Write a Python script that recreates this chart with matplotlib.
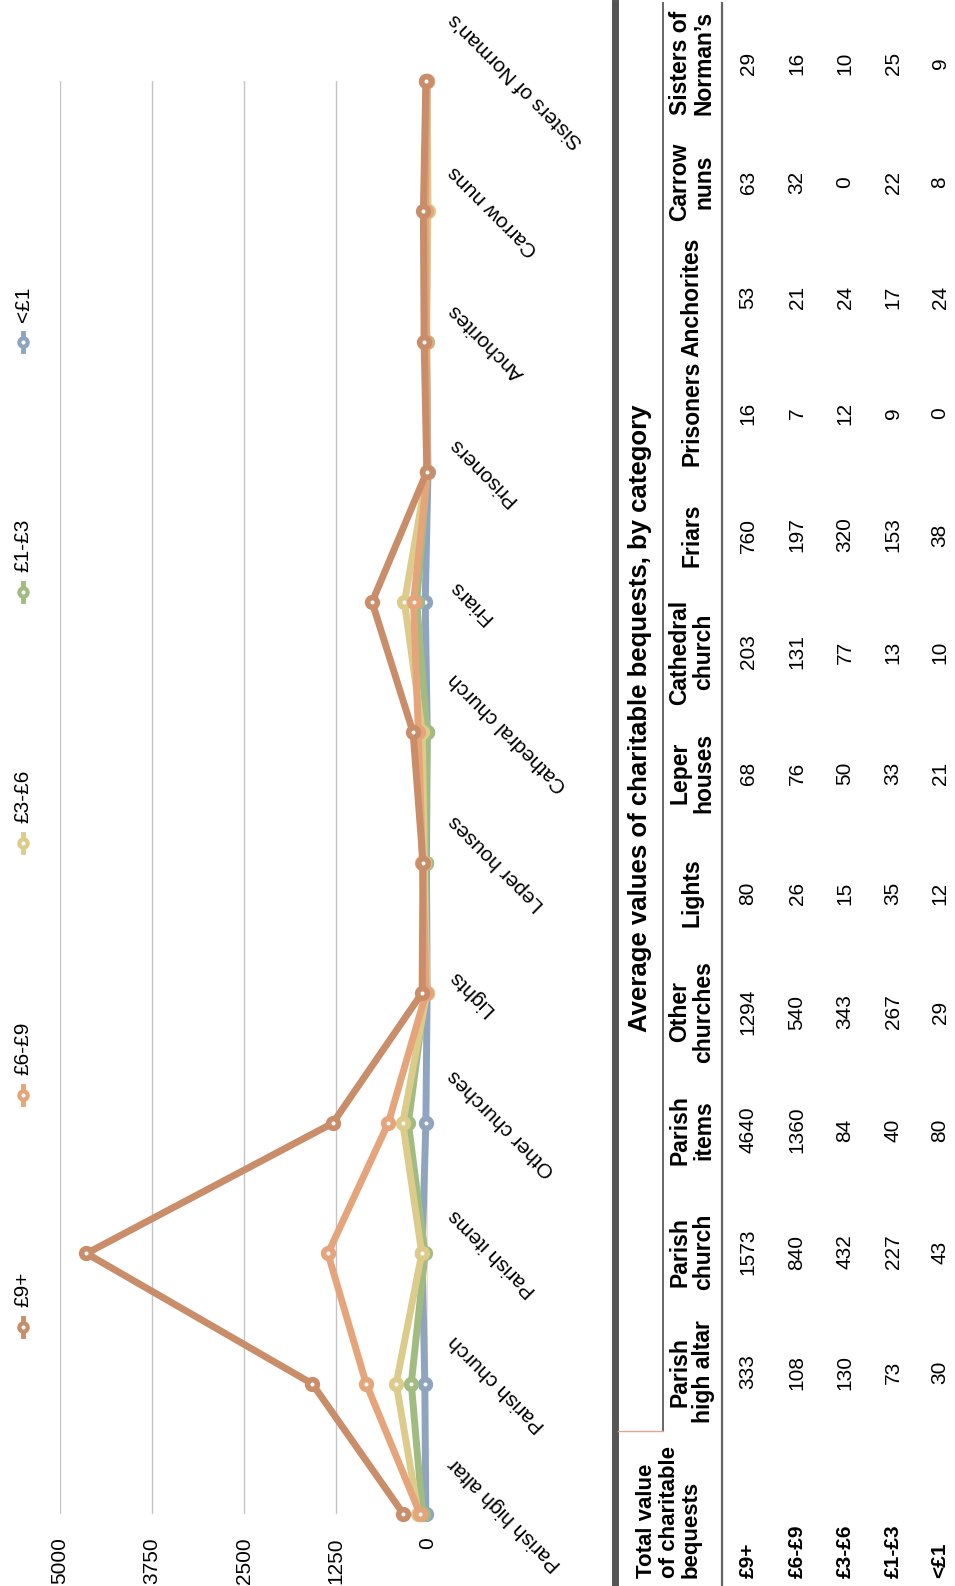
import matplotlib
matplotlib.use("Agg")
import matplotlib.pyplot as plt
from matplotlib.lines import Line2D

plt.rcParams['font.family'] = ['Liberation Sans', 'DejaVu Sans']

# categories along the chart, bottom to top
categories = ["Parish high altar", "Parish church", "Parish items", "Other churches",
              "Lights", "Leper houses", "Cathedral church", "Friars", "Prisoners",
              "Anchorites", "Carrow nuns", "Sisters of Norman's"]
table_headers = ["Parish\nhigh altar", "Parish\nchurch", "Parish\nitems", "Other\nchurches",
                 "Lights", "Leper\nhouses", "Cathedral\nchurch", "Friars", "Prisoners",
                 "Anchorites", "Carrow\nnuns", "Sisters of\nNorman\u2019s"]
bands = ["£9+", "£6-£9", "£3-£6", "£1-£3", "<£1"]

# average values per band
v_9plus = [333, 1573, 4640, 1294, 80, 68, 203, 760, 16, 53, 63, 29]
v_6to9 = [108, 840, 1360, 540, 26, 76, 131, 197, 7, 21, 32, 16]
v_3to6 = [130, 432, 84, 343, 15, 50, 77, 320, 12, 24, 0, 10]
v_1to3 = [73, 227, 40, 267, 35, 33, 13, 153, 9, 17, 22, 25]
v_under1 = [30, 43, 80, 29, 12, 21, 10, 38, 0, 24, 8, 9]
series = [v_9plus, v_6to9, v_3to6, v_1to3, v_under1]
colors = ["#C98D6A", "#E6A47B", "#DDCB8B", "#A1BC81", "#8EA4BF"]
value_ticks = [0, 1250, 2500, 3750, 5000]

W, H = 955, 1586
fig = plt.figure(figsize=(W / 100, H / 100), dpi=100)


def fx(px):
    return px / W


def fy(py):
    return 1 - py / H


# --- line chart (rotated: values run right-to-left, categories bottom-to-top)
ax = fig.add_axes([fx(60), fy(1514), fx(428) - fx(60), fy(81) - fy(1514)])
ypos = list(range(len(categories)))
ax.axvline(0, color="#FF6A6A", lw=1, zorder=1)
for vals, col in reversed(list(zip(series, colors))):
    ax.plot(vals, ypos, color=col, lw=5, marker="o", markersize=7,
            markerfacecolor="white", markeredgecolor=col, markeredgewidth=4,
            solid_joinstyle="miter", clip_on=False, zorder=3)

ax.set_xlim(5000, 0)
ax.set_ylim(0, len(categories) - 1)
ax.set_xticks(value_ticks)
ax.set_xticklabels([str(v) for v in value_ticks])
ax.set_yticks(ypos)
ax.set_yticklabels(categories)
ax.yaxis.tick_right()
ax.tick_params(axis="x", length=0, pad=17, labelsize=15, labelrotation=90)
ax.tick_params(axis="y", length=0, pad=12, labelsize=15)
for lab in ax.get_yticklabels():
    lab.set_rotation(135)
    lab.set_ha("left")
    lab.set_va("center")
ax.grid(axis="x", color="#C4C4C4", lw=1)
ax.set_axisbelow(True)
for s in ax.spines.values():
    s.set_visible(False)

# legend, drawn by hand because the text is turned
legend_y = [1327, 1095, 843, 592, 342]
for band, col, ly in zip(bands, colors, legend_y):
    fig.add_artist(Line2D([fx(23), fx(23)], [fy(ly - 9), fy(ly + 9)], color=col, lw=3.5))
    fig.add_artist(Line2D([fx(23)], [fy(ly)], marker="o", markersize=6,
                          markerfacecolor="white", markeredgecolor=col, markeredgewidth=3))
    fig.text(fx(23), fy(ly - 20), band, rotation=90, ha="center", va="bottom", fontsize=15)

# --- table on the right
col_y = [1372, 1252, 1130, 1012, 893, 773, 652, 535, 413, 297, 182, 63]
row_x = [748, 797, 845, 893, 940]

fig.add_artist(Line2D([fx(615), fx(615)], [fy(3), fy(1586)], color="#555555", lw=5))
fig.add_artist(Line2D([fx(663), fx(663)], [fy(3), fy(1431)], color="#666666", lw=1.4))
fig.add_artist(Line2D([fx(618), fx(663)], [fy(1431), fy(1431)], color="#E9A08C", lw=1))
fig.add_artist(Line2D([fx(722), fx(722)], [fy(3), fy(1586)], color="#666666", lw=1.6))

fig.text(fx(640), fy(718), "Average values of charitable bequests, by category",
         rotation=90, ha="center", va="center", fontsize=18.5, fontweight="bold")
fig.text(fx(669), fy(1578), "Total value\nof charitable\nbequests", rotation=90,
         ha="center", va="bottom", fontsize=16, fontweight="bold",
         multialignment="left", linespacing=1.08)
for head, cy in zip(table_headers, col_y):
    fig.text(fx(692), fy(cy), head, rotation=90, ha="center", va="center",
             fontsize=16.5, fontweight="bold", multialignment="center", linespacing=1.05)

for band, rx, vals in zip(bands, row_x, series):
    fig.text(fx(rx), fy(1578), band, rotation=90, ha="center", va="bottom",
             fontsize=15, fontweight="bold")
    for v, cy in zip(vals, col_y):
        fig.text(fx(rx), fy(cy), str(v), rotation=90, ha="center", va="center", fontsize=15)

fig.savefig("out.png", dpi=100, facecolor="white")
